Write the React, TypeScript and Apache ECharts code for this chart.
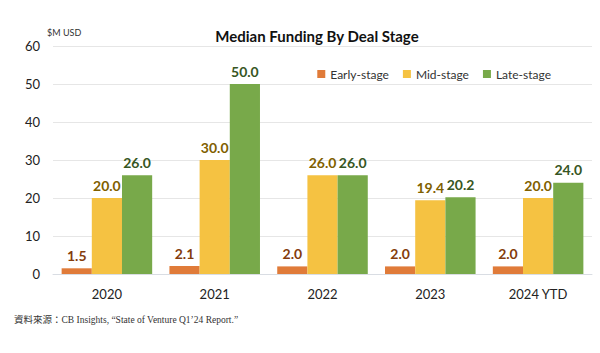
import React, { useEffect, useRef } from "react";
import * as echarts from "echarts";

const categories = ["2020", "2021", "2022", "2023", "2024 YTD"];
const earlyStage = [1.5, 2.1, 2.0, 2.0, 2.0];
const midStage = [20.0, 30.0, 26.0, 19.4, 20.0];
const lateStage = [26.0, 50.0, 26.0, 20.2, 24.0];

const FONT = "Lato, 'Open Sans', sans-serif";

export default function App() {
  const ref = useRef<HTMLDivElement>(null);
  useEffect(() => {
    const chart = echarts.init(ref.current!, null, { renderer: "svg" });
    const mk = (name: string, data: number[], color: string, labelColor: string) => ({
      name,
      type: "bar",
      data,
      barGap: "0%",
      barCategoryGap: "16%",
      itemStyle: { color },
      label: {
        show: true,
        position: "top",
        distance: 6,
        color: labelColor,
        fontWeight: "bold",
        fontSize: 14,
        fontFamily: FONT,
        formatter: (p: any) => Number(p.value).toFixed(1),
      },
    });
    chart.setOption({
      animation: false,
      backgroundColor: "#ffffff",
      title: {
        text: "Median Funding By Deal Stage",
        left: 312,
        textAlign: "center",
        top: 23,
        textStyle: { fontSize: 15, fontWeight: "bold", color: "#111", fontFamily: FONT },
      },
      legend: {
        right: 44,
        top: 63,
        itemWidth: 8,
        itemHeight: 8,
        itemGap: 14,
        icon: "rect",
        textStyle: { fontSize: 12, color: "#333", fontFamily: FONT },
        data: ["Early-stage", "Mid-stage", "Late-stage"],
      },
      graphic: [
        {
          type: "text",
          left: 47,
          top: 28,
          style: { text: "$M USD", fontSize: 9, fill: "#333", fontFamily: FONT },
        },
        {
          type: "text",
          left: 14,
          top: 315,
          style: {
            text: "資料來源：CB Insights, “State of Venture Q1’24 Report.”",
            fontSize: 9.5,
            fill: "#333",
            fontFamily: "'Liberation Serif', 'Noto Sans CJK TC', serif",
          },
        },
      ],
      grid: { left: 53, right: 8, top: 46, bottom: 79, containLabel: false },
      xAxis: {
        type: "category",
        data: categories,
        axisTick: { show: false },
        axisLine: { lineStyle: { color: "#d9dde3" } },
        axisLabel: { fontSize: 13, color: "#222", margin: 13, fontFamily: FONT },
      },
      yAxis: {
        type: "value",
        min: 0,
        max: 60,
        interval: 10,
        axisLabel: { fontSize: 13, color: "#222", margin: 13, fontFamily: FONT },
        splitLine: { lineStyle: { color: "#e6e6e6" } },
      },
      series: [
        mk("Early-stage", earlyStage, "#E07B39", "#843C0C"),
        mk("Mid-stage", midStage, "#F5C242", "#7F6000"),
        mk("Late-stage", lateStage, "#78A94A", "#375623"),
      ],
    });
    return () => chart.dispose();
  }, []);
  return <div ref={ref} style={{ width: 600, height: 353, position: "absolute", left: 0, top: 0 }} />;
}
